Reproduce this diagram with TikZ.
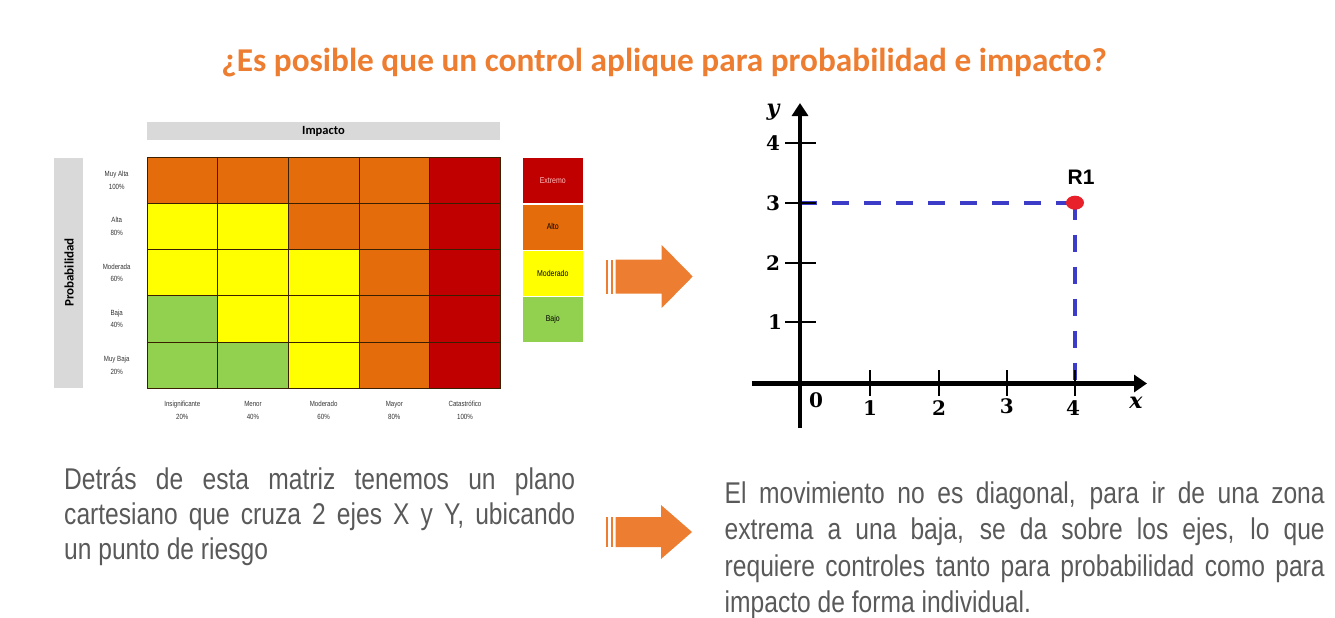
\documentclass[tikz,border=0pt]{standalone}
\usepackage{fontspec}
\setmainfont{Liberation Sans}
\newfontfamily\titlefont{Carlito}
\newfontfamily\narrowfont[FakeStretch=0.82]{Liberation Sans}
\newfontfamily\graphfont{DejaVu Serif}
\usetikzlibrary{arrows.meta}
\definecolor{mO}{HTML}{E46C0A}
\definecolor{mR}{HTML}{C00000}
\definecolor{mY}{HTML}{FFFF00}
\definecolor{mG}{HTML}{92D050}
\definecolor{gridc}{HTML}{3A2000}
\definecolor{barc}{HTML}{D9D9D9}
\definecolor{arrc}{HTML}{ED7D31}
\definecolor{titlec}{HTML}{ED7D31}
\definecolor{txtc}{HTML}{595959}
\definecolor{dashc}{HTML}{3C3CC8}
\definecolor{dotc}{HTML}{E8202A}
\definecolor{pinkc}{HTML}{FFC0C0}
\begin{document}
\begin{tikzpicture}[x=1pt,y=-1pt,
  cell/.style={minimum width=70.67pt, minimum height=46.2pt, anchor=north west, inner sep=0pt, outer sep=0pt},
  gridline/.style={draw=gridc, line width=1pt},
  legbox/.style={draw=white, line width=0.6pt, minimum width=60.4pt, minimum height=46pt, anchor=north west, inner sep=0pt, font=\narrowfont\fontsize{8.5}{10}\selectfont},
  smalllab/.style={align=center, inner sep=0pt, font=\narrowfont\fontsize{7.5}{12.5}\selectfont, text=black!80},
  bodytxt/.style={anchor=base west, inner sep=0pt, text=txtc, font=\narrowfont\fontsize{30}{36}\selectfont},
  glab/.style={inner sep=0pt, font=\graphfont\bfseries\fontsize{20}{24}\selectfont},
  gital/.style={inner sep=0pt, font=\graphfont\bfseries\itshape\fontsize{22}{24}\selectfont},
  axisline/.style={line width=4.5pt, draw=black},
  tickline/.style={line width=2pt, draw=black},
  bluedash/.style={draw=dashc, line width=4pt, dash pattern=on 17pt off 15pt},
  arr/.style={fill=arrc}
]
\useasboundingbox (0,0) rectangle (1335,618);

% title
\node[inner sep=0pt, anchor=base, text=titlec, font=\titlefont\bfseries\fontsize{33.3}{36}\selectfont] (title) at (664,71.5)
  {¿Es posible que un control aplique para probabilidad e impacto?};

% header bars
\fill[barc] (146.7,121.7) rectangle (500.3,140);
\node[inner sep=0pt, font=\titlefont\bfseries\fontsize{12.5}{14}\selectfont] (imp) at (323.5,131) {Impacto};
\fill[barc] (54,157.5) rectangle (83,388);
\node[inner sep=0pt, rotate=90, font=\titlefont\bfseries\fontsize{13}{14}\selectfont] (prob) at (69,272.5) {Probabilidad};

% matrix cells
\foreach \row [count=\r from 0] in {{O,O,O,O,R},{Y,Y,O,O,R},{Y,Y,Y,O,R},{G,Y,Y,O,R},{G,G,Y,O,R}}{
  \foreach \c [count=\i from 0] in \row {
    \node[cell, fill=m\c] (cell-\r-\i) at ({147+70.67*\i},{157.3+46.2*\r}) {};
  }
}
\foreach \r in {0,...,4}{
  \foreach \i in {0,...,4}{
    \draw[gridline] (cell-\r-\i.north west) rectangle (cell-\r-\i.south east);
  }
}

% row labels
\foreach \a/\b [count=\r from 0] in {Muy Alta/100\%, Alta/80\%, Moderada/60\%, Baja/40\%, Muy Baja/20\%}{
  \node[smalllab] (rl-\r) at (116.7,{180.5+46.2*\r}) {\strut\a\\\strut\b};
}
% column labels
\foreach \a/\b [count=\i from 0] in {Insignificante/20\%, Menor/40\%, Moderado/60\%, Mayor/80\%, Catastrófico/100\%}{
  \node[smalllab] (cl-\i) at ({182.3+70.67*\i},410.5) {\strut\a\\\strut\b};
}

% legend
\node[legbox, fill=mR, text=pinkc] (leg-1) at (522.3,157.3) {Extremo};
\node[legbox, fill=mO] (leg-2) at (522.3,203.5) {Alto};
\node[legbox, fill=mY] (leg-3) at (522.3,249.7) {Moderado};
\node[legbox, fill=mG] (leg-4) at (522.3,295.9) {Bajo};

% arrows
\fill[arr] (606,259.5) rectangle (608.3,293.5);
\fill[arr] (611,259.5) rectangle (613.3,293.5);
\fill[arr] (615.7,259.5) -- (661.7,259.5) -- (661.7,245) -- (692.7,276.5) -- (661.7,308) -- (661.7,293.5) -- (615.7,293.5) -- cycle;

\fill[arr] (606,517) rectangle (608.3,547);
\fill[arr] (611,517) rectangle (613.3,547);
\fill[arr] (615.7,517) -- (661,517) -- (661,505) -- (692,532) -- (661,559) -- (661,547) -- (615.7,547) -- cycle;

% graph
\coordinate (yb) at (800,428);
\coordinate (yt) at (800,103);
\coordinate (xl) at (751.7,383.5);
\coordinate (xr) at (1147,383.5);
\coordinate (p3) at (800,202.7);
\coordinate (r1pt) at (1075,202.7);
\coordinate (p4x) at (1075,383.5);

\draw[bluedash] (p3) -- (r1pt);
\draw[bluedash] (r1pt) -- (p4x);

\draw[axisline, -{Triangle[length=13pt,width=16pt]}] (yb) -- (yt);
\draw[axisline, -{Triangle[length=13pt,width=17pt]}] (xl) -- (xr);

\foreach \yy [count=\k] in {321.7,262.7,202.7,142.7}{
  \coordinate (ytl-\k) at (785,\yy);
  \coordinate (ytr-\k) at (816,\yy);
  \draw[tickline] (ytl-\k) -- (ytr-\k);
}
\foreach \xx [count=\k] in {870,939,1006.7,1075}{
  \coordinate (xtt-\k) at (\xx,370);
  \coordinate (xtb-\k) at (\xx,396);
  \draw[tickline] (xtt-\k) -- (xtb-\k);
}

\node[glab] (ly4) at (773,143) {4};
\node[glab] (ly3) at (773,203) {3};
\node[glab] (ly2) at (773,263) {2};
\node[glab] (ly1) at (775,322) {1};
\node[gital] (ly) at (773,112) {y};
\node[glab] (lx0) at (816,400) {0};
\node[glab] (lx1) at (870,408) {1};
\node[glab] (lx2) at (939,408) {2};
\node[glab] (lx3) at (1006.7,406) {3};
\node[glab] (lx4) at (1073,408) {4};
\node[gital] (lx) at (1136,403) {x};

\fill[dotc] (r1pt) ellipse [x radius=9pt, y radius=7pt];
\node[inner sep=0pt, font=\bfseries\fontsize{21}{24}\selectfont] (r1) at (1081,177) {R1};

% body texts
\node[bodytxt] (lt1) at (64,489) {\makebox[511pt][s]{Detrás de esta matriz tenemos un plano}};
\node[bodytxt] (lt2) at (64,524) {\makebox[511pt][s]{cartesiano que cruza 2 ejes X y Y, ubicando}};
\node[bodytxt] (lt3) at (64,559) {un punto de riesgo};

\node[bodytxt] (rt1) at (724.5,503) {\makebox[600pt][s]{El movimiento no es diagonal, para ir de una zona}};
\node[bodytxt] (rt2) at (724.5,539.5) {\makebox[600pt][s]{extrema a una baja, se da sobre los ejes, lo que}};
\node[bodytxt] (rt3) at (724.5,576) {\makebox[600pt][s]{requiere controles tanto para probabilidad como para}};
\node[bodytxt] (rt4) at (724.5,612) {impacto de forma individual.};
\end{tikzpicture}
\end{document}
